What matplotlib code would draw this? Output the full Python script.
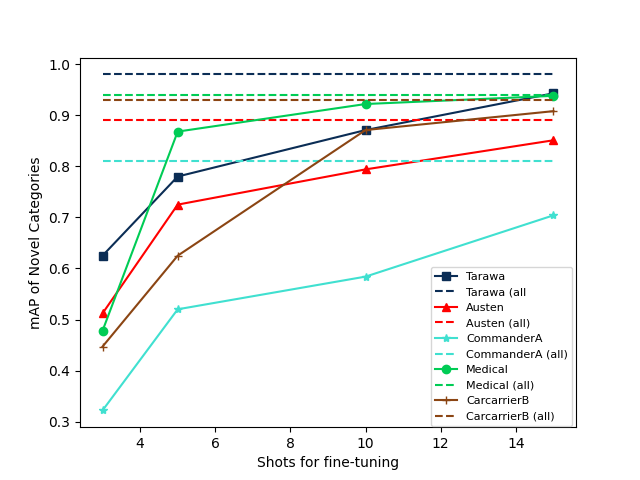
import matplotlib
matplotlib.use("Agg")
import matplotlib.pyplot as plt

shots = [3, 5, 10, 15]
names = ["Tarawa", "Austen", "CommanderA", "Medical", "CarcarrierB"]
tarawa = [0.625, 0.780, 0.871, 0.943]
austen = [0.512, 0.725, 0.794, 0.851]
commandera = [0.322, 0.520, 0.584, 0.704]
medical = [0.478, 0.868, 0.922, 0.938]
carcarrierb = [0.447, 0.625, 0.871, 0.908]
all_values = [0.980, 0.890, 0.810, 0.939, 0.929]
all_labels = ["Tarawa (all", "Austen (all)", "CommanderA (all)", "Medical (all)", "CarcarrierB (all)"]

series = [tarawa, austen, commandera, medical, carcarrierb]
colors = ["#0b2d55", "#ff0000", "#40e0d0", "#00cc55", "#8b4513"]
markers = ["s", "^", "*", "o", "+"]

fig, ax = plt.subplots(figsize=(6.4, 4.8), dpi=100)
for name, vals, c, m, av, al in zip(names, series, colors, markers, all_values, all_labels):
    ax.plot(shots, vals, color=c, marker=m, label=name)
    ax.hlines(av, shots[0], shots[-1], colors=c, linestyles="--", label=al)

ax.set_xlabel("Shots for fine-tuning")
ax.set_ylabel("mAP of Novel Categories")
ax.legend(loc="lower right", fontsize=8, bbox_to_anchor=(0.995, 0.0),
          borderaxespad=0.1)
fig.savefig("out.png")
